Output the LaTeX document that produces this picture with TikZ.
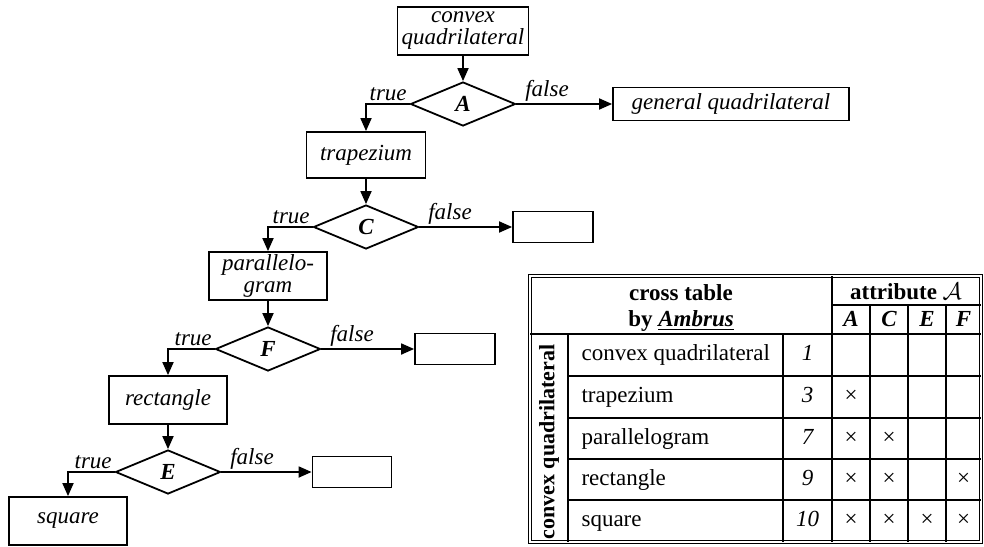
\documentclass[tikz,border=0pt]{standalone}
\usepackage{fontspec}
\setmainfont{Liberation Serif}
\usetikzlibrary{shapes.geometric,arrows.meta}

\begin{document}
\begin{tikzpicture}[x=0.5pt,y=-0.5pt,line width=0.9pt,
  every node/.style={font=\fontsize{11.5}{13}\selectfont},
  box/.style={draw,inner sep=0pt,align=center,font=\fontsize{11.5}{11}\selectfont\itshape},
  test/.style={draw,diamond,inner sep=0pt,minimum width=52.5pt,minimum height=22pt,font=\fontsize{11.5}{13}\selectfont\bfseries\itshape},
  lbl/.style={font=\fontsize{11.5}{13}\selectfont\itshape,inner sep=1pt},
  arr/.style={-{Triangle[length=6.5pt,width=5.5pt]}},
  cell/.style={text height=8pt,text depth=2.5pt},
  grid/.style={line width=0.6pt}]
\useasboundingbox (0,0) rectangle (984,546);

\node[box,minimum width=65.5pt,minimum height=24pt] (cq) at (463,31) {convex\\quadrilateral};
\node[test] (A) at (463,104) {A};
\node[box,minimum width=118pt,minimum height=16.5pt] (gq) at (731,104) {general quadrilateral};
\node[box,minimum width=59.5pt,minimum height=23pt] (trap) at (366,155) {trapezium};
\node[test] (C) at (366,227) {C};
\node[box,minimum width=40pt,minimum height=15.5pt] (nc) at (553,227) {};
\node[box,minimum width=59pt,minimum height=24pt] (par) at (268,276) {parallelo-\\gram};
\node[test] (F) at (268,349) {F};
\node[box,minimum width=40pt,minimum height=15.5pt] (nf) at (455,349) {};
\node[box,minimum width=59pt,minimum height=24pt] (rect) at (168,400) {rectangle};
\node[test] (E) at (168,472) {E};
\node[box,minimum width=39.5pt,minimum height=15.5pt] (ne) at (352,472) {};
\node[box,minimum width=59pt,minimum height=24pt] (sq) at (68,521) {square};

\draw[arr] (cq) -- (A);
\draw[arr] (A.west) -| node[lbl,pos=0,anchor=south east] {true} (trap.north);
\draw[arr] (A.east) -- node[lbl,pos=0,anchor=south west,xshift=3pt] {false} (gq);
\draw[arr] (trap) -- (C);
\draw[arr] (C.west) -| node[lbl,pos=0,anchor=south east] {true} (par.north);
\draw[arr] (C.east) -- node[lbl,pos=0,anchor=south west,xshift=3pt] {false} (nc);
\draw[arr] (par) -- (F);
\draw[arr] (F.west) -| node[lbl,pos=0,anchor=south east] {true} (rect.north);
\draw[arr] (F.east) -- node[lbl,pos=0,anchor=south west,xshift=3pt] {false} (nf);
\draw[arr] (rect) -- (E);
\draw[arr] (E.west) -| node[lbl,pos=0,anchor=south east] {true} (sq.north);
\draw[arr] (E.east) -- node[lbl,pos=0,anchor=south west,xshift=3pt] {false} (ne);

% cross table
\draw[double,double distance=0.7pt,line width=0.5pt] (530,276) rectangle (981,542);
\draw[grid] (530,334) -- (981,334);
\draw[grid] (832,305) -- (981,305);
\draw[grid] (832,276) -- (832,542);
\draw[grid] (568,334) -- (568,542);
\draw[grid] (783,334) -- (783,542);
\draw[grid] (870,305) -- (870,542);
\draw[grid] (908,305) -- (908,542);
\draw[grid] (946,305) -- (946,542);
\draw[grid] (568,376) -- (981,376);
\draw[grid] (568,418) -- (981,418);
\draw[grid] (568,459) -- (981,459);
\draw[grid] (568,500) -- (981,500);

\node (hd) at (681,293) {\bfseries cross table};
\node (hb) at (681,321) {\bfseries by \underline{\itshape Ambrus}};
\node (ha) at (906,291) {\bfseries attribute $\mathcal{A}$};
\node[cell] (ca) at (851,321) {\bfseries\itshape A};
\node[cell] (cc) at (889,321) {\bfseries\itshape C};
\node[cell] (ce) at (927,321) {\bfseries\itshape E};
\node[cell] (cf) at (963.5,321) {\bfseries\itshape F};
\node[rotate=90,font=\fontsize{11}{13}\selectfont\bfseries] (vq) at (549,442) {convex quadrilateral};

\node[cell,anchor=west] (r1) at (574,355) {convex quadrilateral};
\node[cell,anchor=west] (r2) at (574,397) {trapezium};
\node[cell,anchor=west] (r3) at (574,438.5) {parallelogram};
\node[cell,anchor=west] (r4) at (574,479.5) {rectangle};
\node[cell,anchor=west] (r5) at (574,521) {square};
\node[cell] (n1) at (807.5,355) {\itshape 1};
\node[cell] (n2) at (807.5,397) {\itshape 3};
\node[cell] (n3) at (807.5,438.5) {\itshape 7};
\node[cell] (n4) at (807.5,479.5) {\itshape 9};
\node[cell] (n5) at (807.5,521) {\itshape 10};

\node[cell] (x2a) at (851,397) {×};
\node[cell] (x3a) at (851,438.5) {×};
\node[cell] (x3c) at (889,438.5) {×};
\node[cell] (x4a) at (851,479.5) {×};
\node[cell] (x4c) at (889,479.5) {×};
\node[cell] (x4f) at (963.5,479.5) {×};
\node[cell] (x5a) at (851,521) {×};
\node[cell] (x5c) at (889,521) {×};
\node[cell] (x5e) at (927,521) {×};
\node[cell] (x5f) at (963.5,521) {×};

\end{tikzpicture}
\end{document}
